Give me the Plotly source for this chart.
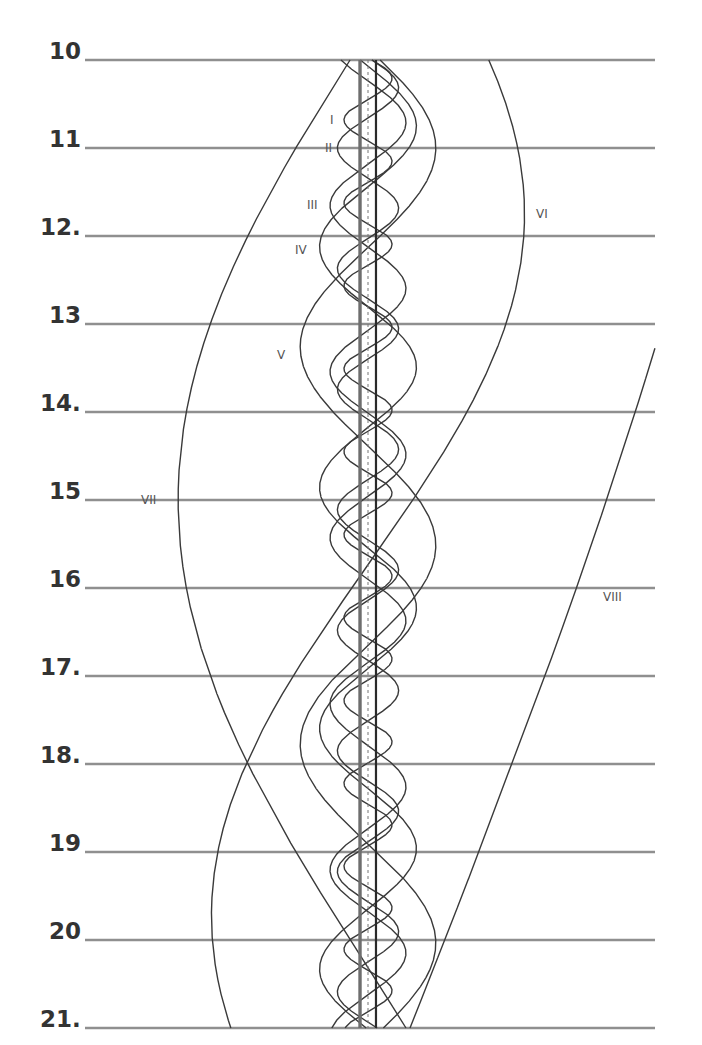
import numpy as np
import plotly.graph_objects as go

# Days shown on the vertical axis and their printed labels
days = [10, 11, 12, 13, 14, 15, 16, 17, 18, 19, 20, 21]
day_labels = ["10", "11", "12.", "13", "14.", "15", "16", "17.", "18.", "19", "20", "21."]

# Satellites (Roman numeral labels), orbital periods (days),
# apparent elongation amplitudes (planet radii), time of greatest eastern elongation (day)
moons = ["I", "II", "III", "IV", "V", "VI", "VII", "VIII"]
periods = [0.9424, 1.3702, 1.8878, 2.7369, 4.5175, 15.945, 21.277, 79.33]
amplitudes = [3.1, 3.95, 4.9, 6.25, 8.75, 20.2, 24.5, 57.0]
t_max = [10.21, 10.315, 10.71, 13.49, 11.0, 11.75, 4.36, 2.37]

# label placement (day, elongation)
label_day = [10.68, 11.0, 11.65, 12.16, 13.35, 11.75, 15.0, 16.1]
label_x = [-4.6, -5.1, -7.1, -8.6, -11.2, 22.4, -28.3, 31.6]

PX = 7.75           # pixels per planet radius
CX = 360            # pixel column of the planet centre (page has an 8px body margin)
TOP, DAYPX = 52, 88  # pixel row of day 10, pixels per day
x_left, x_right = -CX / PX, (702 - CX) / PX
line_x0, line_x1 = (77 - CX) / PX, (647 - CX) / PX

fig = go.Figure()

# horizontal day lines
for d in days:
    fig.add_trace(go.Scatter(x=[line_x0, line_x1], y=[d, d], mode="lines",
                             line=dict(color="#8f8f8f", width=2.4),
                             hoverinfo="skip", showlegend=False))

t = np.linspace(days[0], days[-1], 4000)
for name, P, A, tm in zip(moons, periods, amplitudes, t_max):
    x = A * np.cos(2 * np.pi * (t - tm) / P)
    x = np.where(x > line_x1, np.nan, x)
    fig.add_trace(go.Scatter(x=x, y=t, mode="lines",
                             line=dict(color="#3a3a3a", width=1.4),
                             hoverinfo="skip", showlegend=False, name=name))

# planet disc edges and centre line
fig.add_trace(go.Scatter(x=[-1.03, -1.03], y=[days[0], days[-1]], mode="lines",
                         line=dict(color="#6e6e6e", width=3.4), hoverinfo="skip", showlegend=False))
fig.add_trace(go.Scatter(x=[1.03, 1.03], y=[days[0], days[-1]], mode="lines",
                         line=dict(color="#2a2a2a", width=2.2), hoverinfo="skip", showlegend=False))
fig.add_trace(go.Scatter(x=[0, 0], y=[days[0], days[-1]], mode="lines",
                         line=dict(color="#777777", width=1, dash="dot"), hoverinfo="skip", showlegend=False))

annotations = []
for d, lab in zip(days, day_labels):
    annotations.append(dict(x=line_x0, y=d, xref="x", yref="y", text="<b>" + lab + "</b>",
                            showarrow=False, xanchor="right", yanchor="bottom", xshift=-2, yshift=-6,
                            font=dict(family="DejaVu Sans", size=23, color="#333333")))
for name, ld, lx in zip(moons, label_day, label_x):
    annotations.append(dict(x=lx, y=ld, xref="x", yref="y", text=name, showarrow=False,
                            xanchor="center", yanchor="middle",
                            font=dict(family="DejaVu Sans", size=12, color="#555555")))

fig.update_layout(
    width=702, height=1045, margin=dict(l=0, r=0, t=0, b=0),
    paper_bgcolor="white", plot_bgcolor="white",
    xaxis=dict(range=[x_left, x_right], visible=False, fixedrange=True),
    yaxis=dict(range=[21 + (1045 - TOP - 11 * DAYPX) / DAYPX, 10 - TOP / DAYPX],
               visible=False, fixedrange=True),
    annotations=annotations,
)

fig.write_html("out.html")
